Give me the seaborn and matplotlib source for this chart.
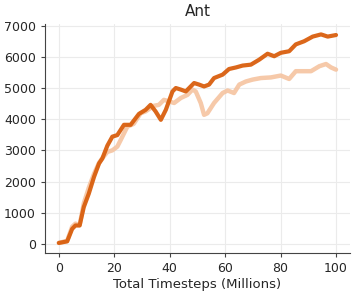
import pandas as pd
import matplotlib
matplotlib.use("Agg")
import matplotlib.pyplot as plt
import seaborn as sns

# dark series (timesteps in millions, return)
dark_x = [0, 3, 4.8, 6, 7.5, 9, 10.8, 12.7, 14.5, 15.7, 17.5, 19.3, 21.1, 23.5, 25.9,
          28.9, 31.3, 33.1, 34.9, 36.8, 38.6, 41, 42.2, 44, 45.8, 48.8, 50.6, 52.4,
          54.2, 56, 59.1, 61.4, 63.9, 66.3, 69.3, 72.3, 75.3, 77.7, 80.1, 83.1, 85.5,
          88.5, 91.6, 94.6, 97, 100]
dark_y = [30, 80, 480, 590, 590, 1180, 1610, 2150, 2580, 2740, 3150, 3440, 3490, 3820,
          3820, 4170, 4300, 4460, 4250, 3980, 4300, 4890, 5000, 4950, 4890, 5160, 5110,
          5050, 5110, 5320, 5430, 5610, 5660, 5720, 5750, 5910, 6100, 6020, 6130, 6180,
          6400, 6500, 6650, 6720, 6650, 6700]

# light series
light_x = [0, 3, 4.8, 6, 7.5, 9, 10.8, 12.7, 14.5, 15.7, 17.5, 19.3, 21.1, 22.3, 24.7,
           27, 29.5, 31.3, 34.3, 36.1, 37.9, 39.8, 41.6, 44, 46.4, 48.2, 49.4, 51.2,
           52.4, 53.6, 56, 59.1, 60.9, 63.2, 65.1, 67.5, 69.9, 72.9, 76.5, 80.1, 83.1,
           85.5, 88.5, 91, 94, 96.4, 98.2, 100]
light_y = [30, 100, 550, 650, 600, 1300, 1800, 2250, 2600, 2750, 2950, 3000, 3120, 3330,
           3760, 3850, 4190, 4250, 4430, 4460, 4620, 4570, 4520, 4680, 4780, 4950, 4890,
           4520, 4140, 4190, 4520, 4840, 4920, 4840, 5110, 5210, 5270, 5320, 5340, 5400,
           5290, 5540, 5540, 5540, 5700, 5770, 5660, 5590]

light_df = pd.DataFrame({"t": light_x, "r": light_y})
dark_df = pd.DataFrame({"t": dark_x, "r": dark_y})

sns.set_style("white")
fig = plt.figure(figsize=(3.57, 2.96), dpi=100)
ax = fig.add_axes([0.126, 0.144, 0.854, 0.775])

sns.lineplot(data=light_df, x="t", y="r", ax=ax, color="#f5c3a0", linewidth=3.2,
             alpha=0.9, sort=False)
sns.lineplot(data=dark_df, x="t", y="r", ax=ax, color="#d95f0e", linewidth=3.0,
             alpha=0.95, sort=False)

ax.set_xticks([0, 20, 40, 60, 80, 100])
ax.set_yticks(range(0, 7001, 1000))
ax.grid(True, color="#ebebeb", linewidth=0.8)
ax.set_axisbelow(True)
sns.despine(ax=ax)
for s in ["left", "bottom"]:
    ax.spines[s].set_color("#444444")
ax.tick_params(axis="both", labelsize=9, length=3, color="#444444", left=True, bottom=True)
ax.set_title("Ant", fontsize=11)
ax.set_xlabel("Total Timesteps (Millions)", fontsize=9.5, labelpad=2)
ax.set_ylabel("")

fig.savefig("out.png", dpi=100)
